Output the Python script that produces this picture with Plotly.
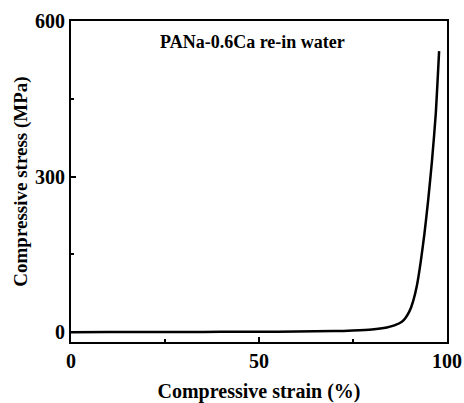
import plotly.graph_objects as go

strain = [0, 10, 20, 30, 40, 50, 60, 70, 75, 80, 84, 86, 88, 89, 90, 91, 92, 93, 94, 95, 96, 97, 97.9]
stress = [0, 0.2, 0.3, 0.4, 0.6, 0.8, 1.2, 2, 3, 5, 9, 13, 20, 28, 40, 60, 90, 135, 190, 255, 330, 420, 542]

x_ticks = [0, 50, 100]
y_ticks = [0, 300, 600]
label = "PANa-0.6Ca re-in water"

font_family = "Liberation Serif"

fig = go.Figure()
fig.add_trace(go.Scatter(x=strain, y=stress, mode="lines",
                         line=dict(color="black", width=2.5, shape="spline", smoothing=0.6),
                         showlegend=False))

fig.add_annotation(x=48.4, y=559, text="<b>" + label + "</b>", showarrow=False,
                   font=dict(family=font_family, size=18, color="black"))

axis_common = dict(showgrid=False, zeroline=False, showline=True, linecolor="black",
                   linewidth=2, mirror=True, ticks="inside", ticklen=5, tickwidth=1.5,
                   tickcolor="black", automargin=False,
                   tickfont=dict(family=font_family, size=20, color="black", weight="bold"))

fig.update_xaxes(range=[0, 100], tickvals=x_ticks, ticktext=[str(v) for v in x_ticks],
                 minor=dict(ticks="inside", ticklen=3, tickwidth=1.5, tickcolor="black",
                            tickvals=[25, 75]),
                 title=dict(text="<b>Compressive strain (%)</b>",
                            font=dict(family=font_family, size=20, color="black"),
                            standoff=13),
                 **axis_common)
fig.update_yaxes(range=[-19, 600], tickvals=y_ticks, ticktext=[str(v) for v in y_ticks],
                 minor=dict(ticks="inside", ticklen=3, tickwidth=1.5, tickcolor="black",
                            tickvals=[150, 450]),
                 title=dict(text="<b>Compressive stress (MPa)</b>",
                            font=dict(family=font_family, size=19, color="black"),
                            standoff=2),
                 **axis_common)

fig.update_layout(width=464, height=403, margin=dict(l=71, r=17, t=21, b=61),
                  plot_bgcolor="white", paper_bgcolor="white")

fig.write_html("out.html")
